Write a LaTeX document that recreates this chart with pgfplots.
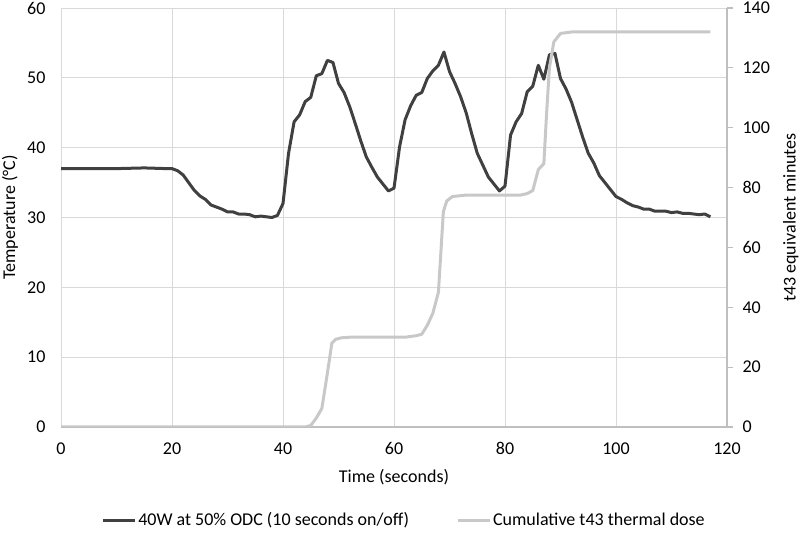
\documentclass[border=0pt]{standalone}
\usepackage{fontspec}
\setmainfont{Carlito}
\usepackage{pgfplots}
\pgfplotsset{compat=1.18}
\definecolor{darkline}{HTML}{404040}
\definecolor{lightline}{HTML}{C8C8C8}
\definecolor{gridc}{HTML}{D9D9D9}
\definecolor{axc}{HTML}{BFBFBF}
\pgfplotsset{
  /pgf/number format/assume math mode=true,
  every axis/.append style={font=\fontsize{18bp}{21bp}\selectfont},
}
\begin{document}
\begin{tikzpicture}
\useasboundingbox (-61bp,-108bp) rectangle (739bp,427bp);
\begin{axis}[
  at={(0,0)}, anchor=south west,
  scale only axis, width=666bp, height=419bp,
  xmin=0, xmax=120, ymin=0, ymax=60,
  xtick={0,20,...,120}, ytick={0,10,...,60},
  xmajorgrids, ymajorgrids,
  grid style={gridc, line width=1bp},
  axis x line*=bottom, axis y line*=left,
  x axis line style={axc, line width=1.2bp, -},
  y axis line style={draw=none},
  major tick length=0pt,
  xticklabel style={yshift=-12bp},
  yticklabel style={xshift=-12bp},
  xlabel={Time (seconds)},
  xlabel style={at={(axis description cs:0.5,-0.119)}, anchor=center},
  ylabel={Temperature (\textdegree C)},
  ylabel style={at={(axis description cs:-0.0766,0.5)}, anchor=center},
  legend style={at={(axis description cs:0.515,-0.222)}, anchor=center,
    draw=none, fill=none, legend columns=2,
    /tikz/every even column/.append style={column sep=45bp},
    legend cell align=left},
  legend image code/.code={\draw[#1] (0bp,0bp) -- (32bp,0bp);},
]
\addplot[darkline, line width=3bp, line join=round] coordinates {
(0,37.0)(2,37.0)(5,37.0)(10,37.0)(15,37.1)(19,37.0)(20,37.0)(21,36.7)(22,36.1)(23,35.0)
(24,33.9)(25,33.1)(26,32.6)(27,31.8)(28,31.5)(29,31.2)(30,30.8)(31,30.8)(32,30.5)(33,30.5)
(34,30.4)(35,30.1)(36,30.2)(37,30.1)(38,30.0)(39,30.3)(40,32.0)(41,39.2)(42,43.7)(43,44.7)
(44,46.6)(45,47.2)(46,50.3)(47,50.6)(48,52.5)(49,52.2)(50,49.2)(51,47.9)(52,45.9)(53,43.5)
(54,41.0)(55,38.7)(56,37.2)(57,35.8)(58,34.8)(59,33.8)(60,34.2)(61,40.1)(62,44.0)(63,46.0)
(64,47.5)(65,47.9)(66,49.9)(67,51.0)(68,51.8)(69,53.7)(70,50.9)(71,49.2)(72,47.3)(73,45.0)
(74,42.0)(75,39.2)(76,37.5)(77,35.8)(78,34.8)(79,33.8)(80,34.5)(81,41.8)(82,43.7)(83,44.9)
(84,48.0)(85,48.8)(86,51.8)(87,49.8)(88,53.3)(89,53.5)(90,49.9)(91,48.4)(92,46.5)(93,44.0)
(94,41.5)(95,39.2)(96,37.8)(97,36.0)(98,35.0)(99,34.0)(100,33.0)(101,32.6)(102,32.1)(103,31.7)
(104,31.5)(105,31.2)(106,31.2)(107,30.9)(108,30.9)(109,30.9)(110,30.7)(111,30.8)(112,30.6)(113,30.6)
(114,30.5)(115,30.4)(116,30.5)(117,30.1)
};
\addlegendentry{40W at 50\% ODC (10 seconds on/off)}
\addlegendimage{lightline, line width=3bp}
\addlegendentry{Cumulative t43 thermal dose}
\end{axis}
\begin{axis}[
  at={(0,0)}, anchor=south west,
  scale only axis, width=666bp, height=419bp,
  xmin=0, xmax=120, ymin=0, ymax=140,
  ytick={0,20,...,140},
  axis x line=none, axis y line*=right,
  y axis line style={axc, line width=1.2bp, -},
  ytick style={axc, line width=1.2bp},
  tick align=outside, major tick length=6bp,
  yticklabel style={xshift=6bp},
  ylabel={t43 equivalent minutes},
  ylabel style={at={(axis description cs:1.096,0.5)}, anchor=center, rotate=0},
]
\addplot[lightline, line width=3bp, line join=round] coordinates {
(0,0)(44,0)(45,0.5)(46,3)(47,6.2)(48,18)(48.8,28)(49.5,29.3)(50.5,29.8)(52,30)
(62,30)(64,30.5)(65,31)(66,34)(67,38)(68,45)(68.5,60)(68.9,72)(69.5,75.5)(70.5,77)
(73,77.5)(82.8,77.5)(84,78)(85,79)(86,86)(87,88)(87.5,105)(88,120)(88.8,128.7)(90,131.5)
(92,132)(117,132)
};
\end{axis}
\end{tikzpicture}
\end{document}
